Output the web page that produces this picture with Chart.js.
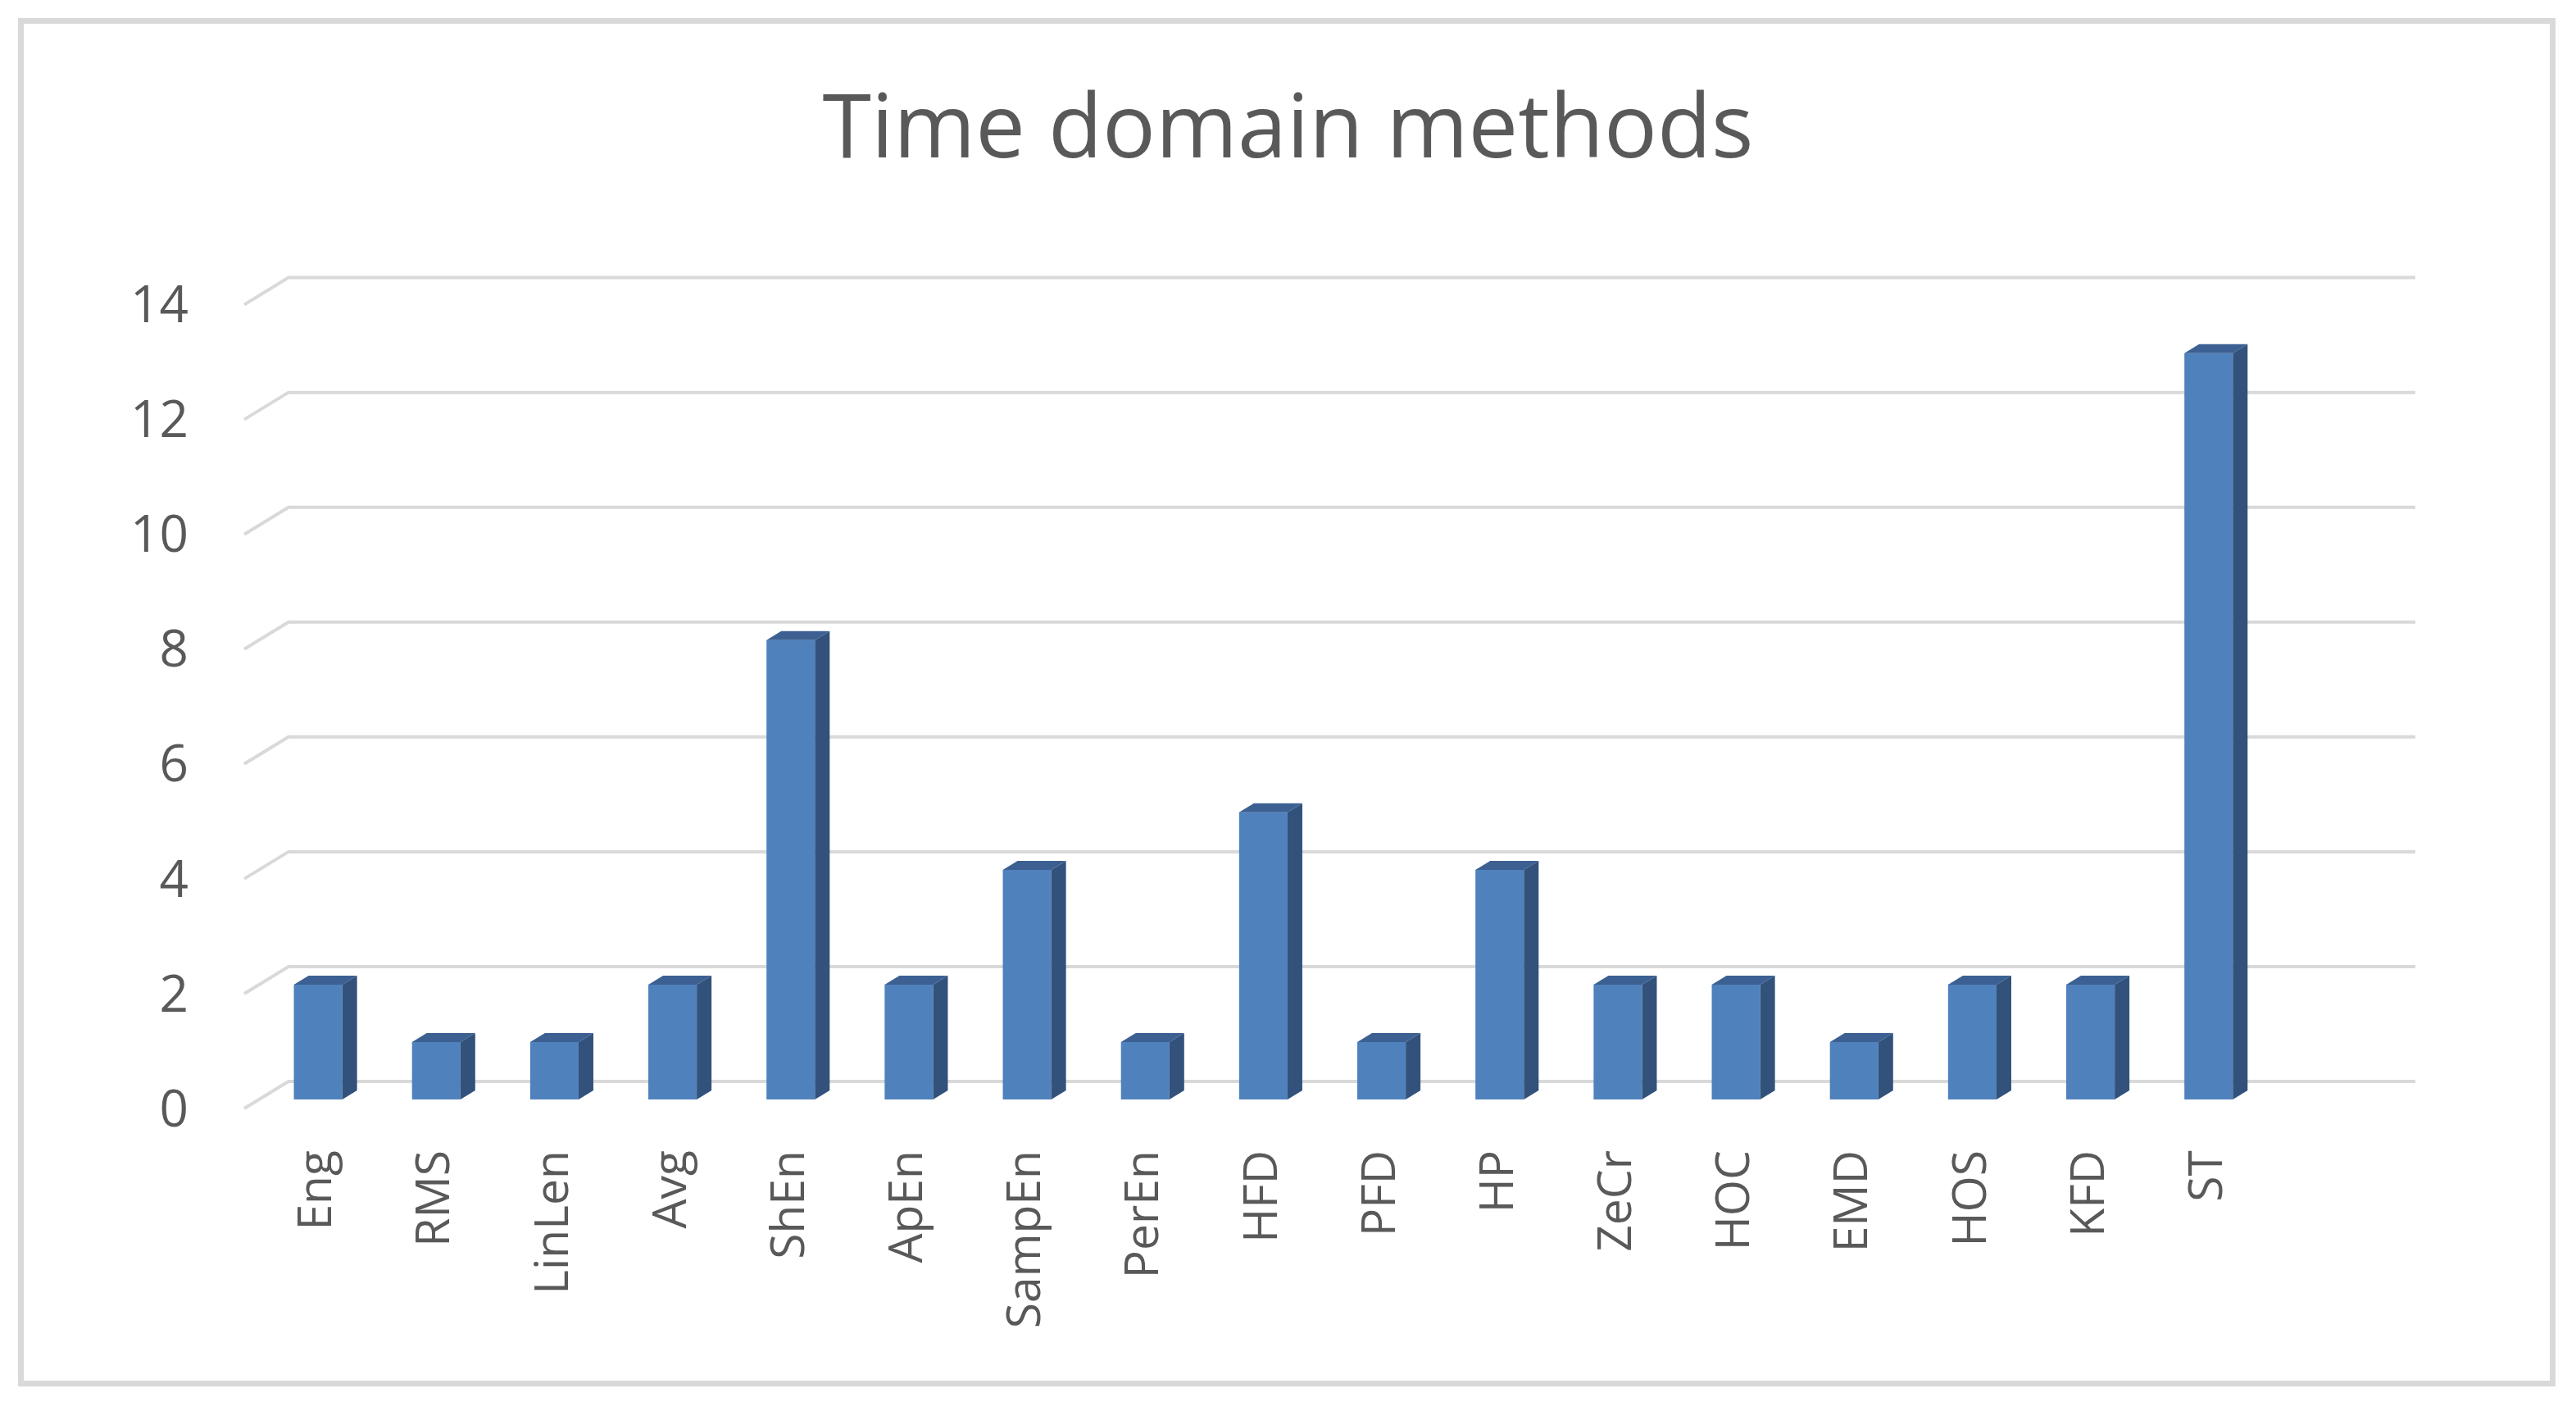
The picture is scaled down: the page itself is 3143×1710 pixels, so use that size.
<!DOCTYPE html>
<html>
<head>
<meta charset="utf-8">
<script src="https://cdn.jsdelivr.net/npm/chart.js@4"></script>
<style>
  html, body { margin: 0; padding: 0; background: #ffffff; }
  #frame {
    position: absolute; left: 22px; top: 22px;
    width: 3082px; height: 1655px;
    border: 7px solid #d9d9d9;
  }
  #timeChart { position: absolute; left: 0; top: 0; }
</style>
</head>
<body>
<div id="frame"></div>
<canvas id="timeChart" width="3143" height="1710"></canvas>
<script>
// categories (last one is the empty slot of the original sheet)
const methods = ["Eng", "RMS", "LinLen", "Avg", "ShEn", "ApEn", "SampEn", "PerEn", "HFD",
  "PFD", "HP", "ZeCr", "HOC", "EMD", "HOS", "KFD", "ST", ""];
const counts = [2, 1, 1, 2, 8, 2, 4, 1, 5, 1, 4, 2, 2, 1, 2, 2, 13, null];
const yTicks = [0, 2, 4, 6, 8, 10, 12, 14];

const depthX = 18;
const depthY = 11;
const frontColor = "#4f81bd";
const sideColor = "#32527c";
const topColor = "#3c6092";
const gridColor = "#d9d9d9";
const textColor = "#595959";

// back wall gridlines with the little slant on the left (3d look)
const wallGrid = {
  id: "wallGrid",
  beforeDatasetsDraw(chart) {
    const { ctx, chartArea, scales } = chart;
    const y = scales.y;
    ctx.save();
    ctx.strokeStyle = gridColor;
    ctx.lineWidth = 4;
    yTicks.forEach((v) => {
      const yF = y.getPixelForValue(v);
      const yB = yF - 2 * depthY;
      ctx.beginPath();
      ctx.moveTo(chartArea.left - depthX, yF + depthY);
      ctx.lineTo(chartArea.left + 2 * depthX, yB);
      ctx.lineTo(chartArea.right + 2 * depthX, yB);
      ctx.stroke();
    });
    ctx.restore();
  },
};

// side and top faces of each bar
const barFaces = {
  id: "barFaces",
  afterDatasetsDraw(chart) {
    const { ctx } = chart;
    const meta = chart.getDatasetMeta(0);
    ctx.save();
    meta.data.forEach((bar, i) => {
      if (counts[i] === null) return;
      const p = bar.getProps(["x", "y", "base", "width"], true);
      const x0 = p.x - p.width / 2;
      const x1 = p.x + p.width / 2;
      // top
      ctx.fillStyle = topColor;
      ctx.beginPath();
      ctx.moveTo(x0, p.y);
      ctx.lineTo(x0 + depthX, p.y - depthY);
      ctx.lineTo(x1 + depthX, p.y - depthY);
      ctx.lineTo(x1, p.y);
      ctx.closePath();
      ctx.fill();
      // side
      ctx.fillStyle = sideColor;
      ctx.beginPath();
      ctx.moveTo(x1, p.y);
      ctx.lineTo(x1 + depthX, p.y - depthY);
      ctx.lineTo(x1 + depthX, p.base - depthY);
      ctx.lineTo(x1, p.base);
      ctx.closePath();
      ctx.fill();
    });
    ctx.restore();
  },
};

const ctx = document.getElementById("timeChart");

new Chart(ctx, {
  type: "bar",
  data: {
    labels: methods,
    datasets: [
      {
        label: "Count",
        data: counts,
        backgroundColor: frontColor,
        borderWidth: 0,
        categoryPercentage: 1,
        barPercentage: 0.41,
      },
    ],
  },
  options: {
    responsive: false,
    animation: false,
    layout: {
      padding: 0,
    },
    scales: {
      x: {
        grid: { display: false },
        border: { display: false },
        ticks: {
          minRotation: 90,
          maxRotation: 90,
          autoSkip: false,
          padding: 54,
          color: textColor,
          font: { family: "'Open Sans', sans-serif", size: 57 },
        },
        afterFit: (axis) => {
          axis.height = 369;
        },
      },
      y: {
        min: 0,
        max: 14,
        grid: { display: false, drawTicks: false },
        border: { display: false },
        ticks: {
          stepSize: 2,
          padding: 86,
          labelOffset: 15,
          color: textColor,
          font: { family: "'Open Sans', sans-serif", size: 62 },
        },
        afterFit: (axis) => {
          axis.width = 316;
        },
      },
      // empty right axis, only keeps the space on the right of the wall
      yRight: {
        type: "linear",
        position: "right",
        grid: { display: false },
        border: { display: false },
        ticks: { display: false },
        afterFit: (axis) => {
          axis.width = 232;
        },
      },
    },
    plugins: {
      legend: { display: false },
      tooltip: { enabled: false },
      title: {
        display: true,
        text: "Time domain methods",
        color: textColor,
        font: { family: "'Open Sans', sans-serif", size: 108, weight: "normal", lineHeight: 1.2 },
        padding: { top: 96, bottom: 135 },
      },
    },
  },
  plugins: [wallGrid, barFaces],
});
</script>
</body>
</html>
